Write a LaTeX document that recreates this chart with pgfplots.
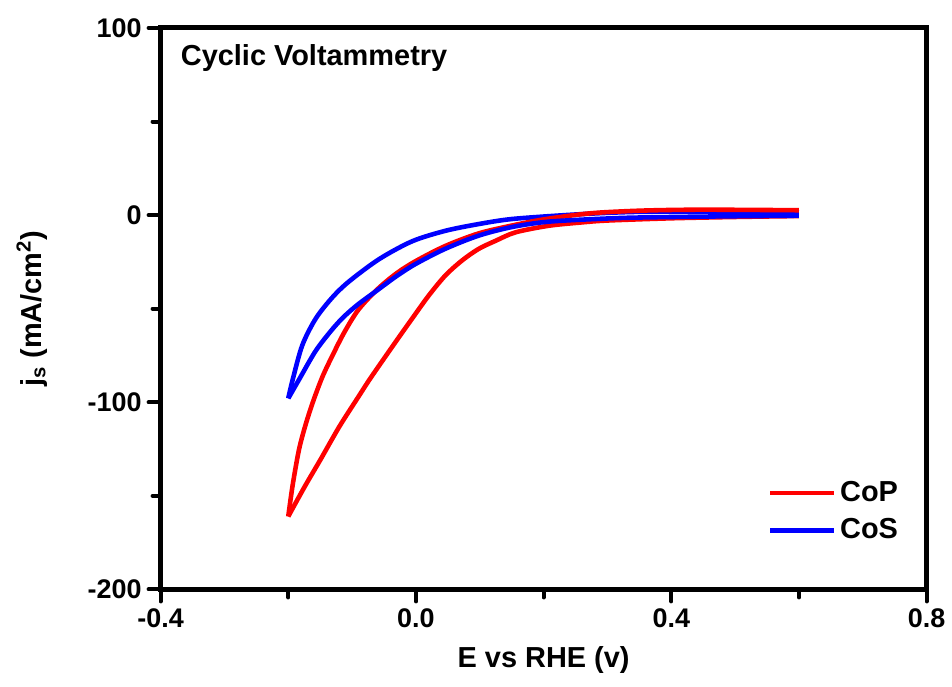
\documentclass[border=0pt]{standalone}
\usepackage{pgfplots}
\pgfplotsset{compat=1.18}
\usepackage{fontspec}
\setmainfont{Liberation Sans}
\begin{document}
\begin{tikzpicture}
\begin{axis}[
  scale only axis,
  width=384pt, height=281.5pt,
  xmin=-0.4, xmax=0.8, ymin=-200, ymax=100,
  xtick={-0.4,0,0.4,0.8}, minor xtick={-0.2,0.2,0.6},
  ytick={-200,-100,0,100}, minor ytick={-150,-50,50},
  xtick pos=bottom, ytick pos=left,
  tick align=outside,
  major tick length=6pt, minor tick length=4pt,
  every tick/.style={black, line width=2pt, line cap=round},
  axis line style={line width=2.5pt},
  /pgf/number format/assume math mode=true,
  xticklabel style={/pgf/number format/.cd, fixed, fixed zerofill, precision=1},
  ticklabel style={font=\fontsize{13.5}{16}\selectfont\bfseries},
  label style={font=\fontsize{14.5}{17}\selectfont\bfseries},
  xlabel={E vs RHE (v)},
  ylabel={j\textsubscript{s} (mA/cm\textsuperscript{2})},
  xlabel style={at={(axis description cs:0.5,-0.126)}, anchor=center},
  ylabel style={at={(axis description cs:-0.168,0.5)}, anchor=center},
  legend style={draw=none, fill=none, at={(0.792,0.1385)}, anchor=west,
    inner sep=0pt, font=\fontsize{14.5}{17}\selectfont\bfseries, row sep=3pt},
  legend cell align=left,
  legend image code/.code={\draw[#1] (0pt,0pt) -- (32pt,0pt);},
  cop/.style={red, line width=2.3pt, smooth, tension=0.5},
  cos/.style={blue, line width=2.3pt, smooth, tension=0.5},
]
% CoP, cathodic branch
\addplot[cop] coordinates {
  (0.600,-0.5) (0.500,-1.0) (0.400,-1.7) (0.300,-2.9) (0.260,-3.9)
  (0.208,-5.7) (0.156,-9.2) (0.125,-13.7) (0.098,-18.1) (0.072,-24.3)
  (0.046,-32.3) (0.020,-43.0) (-0.006,-55.3) (-0.034,-68.8) (-0.071,-87.0)
  (-0.090,-97.0) (-0.120,-113.0) (-0.149,-130.3) (-0.175,-145.5) (-0.200,-161.0)
};
\addlegendentry{CoP}
% CoS, cathodic branch
\addplot[cos] coordinates {
  (0.600,1.3) (0.500,1.8) (0.364,1.8) (0.300,1.2) (0.234,0.0)
  (0.150,-2.1) (0.098,-4.8) (0.046,-8.4) (-0.006,-14.0) (-0.058,-23.6)
  (-0.105,-35.5) (-0.131,-44.0) (-0.157,-55.3) (-0.178,-69.5) (-0.193,-87.8)
  (-0.200,-97.9)
};
\addlegendentry{CoS}
% return branches
\addplot[cop, forget plot] coordinates {
  (-0.200,-161.0) (-0.193,-144.0) (-0.183,-125.0) (-0.172,-111.0) (-0.160,-98.5)
  (-0.146,-86.0) (-0.130,-74.5) (-0.112,-62.5) (-0.090,-50.5) (-0.060,-39.5)
  (-0.030,-31.0) (0.000,-24.5) (0.046,-16.5) (0.098,-9.8) (0.150,-5.6)
  (0.200,-2.3) (0.260,0.5) (0.300,1.6) (0.364,2.5) (0.450,2.9) (0.600,2.6)
};
\addplot[cos, forget plot] coordinates {
  (-0.200,-97.9) (-0.183,-87.8) (-0.157,-72.5) (-0.131,-61.0) (-0.112,-54.0)
  (-0.090,-47.5) (-0.060,-40.0) (-0.030,-32.5) (0.000,-26.0) (0.046,-18.0)
  (0.098,-11.0) (0.150,-6.4) (0.208,-3.5) (0.300,-1.8) (0.364,-1.2)
  (0.500,-0.6) (0.600,-0.3)
};
\node[anchor=west, inner sep=0pt, font=\fontsize{14.5}{17}\selectfont\bfseries]
  at (rel axis cs:0.026,0.947) {Cyclic Voltammetry};
\end{axis}
\path[use as bounding box] (-80.5pt,-48.5pt) rectangle (395.5pt,295.5pt);
\end{tikzpicture}
\end{document}
